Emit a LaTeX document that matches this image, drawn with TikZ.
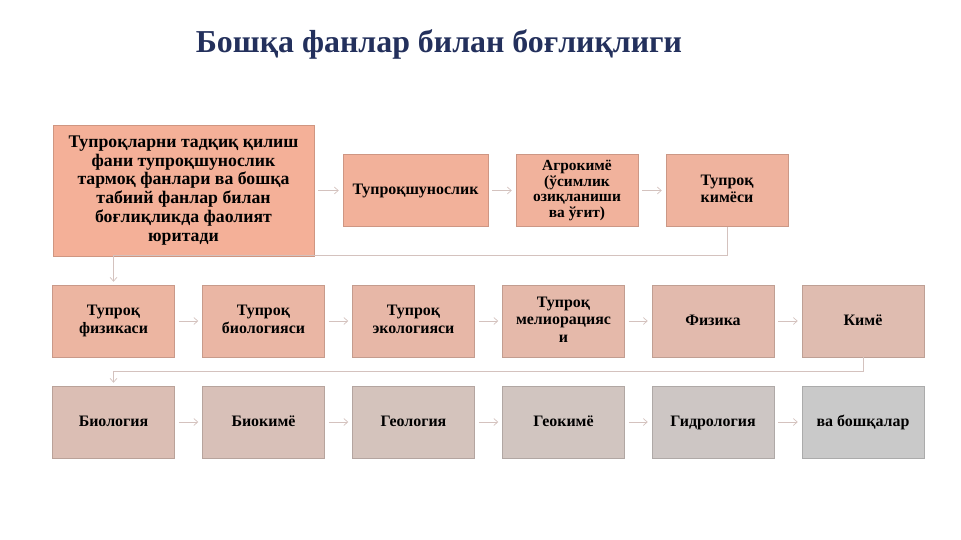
\documentclass[tikz,border=0pt]{standalone}
\usepackage{fontspec}
\setmainfont{Liberation Serif}
\usetikzlibrary{arrows.meta}
\usetikzlibrary{calc}

\definecolor{sal}{RGB}{244,176,152}
\definecolor{gry}{RGB}{201,201,201}
\definecolor{titleblue}{RGB}{35,48,92}
\definecolor{linkc}{RGB}{212,194,190}

\newcommand{\boxstrut}{\vrule height 0.78em depth 0.2em width 0pt}

\begin{document}
\begin{tikzpicture}[x=1bp, y=-1bp,
        box_style/.style={rectangle, draw=gry!#1!sal!85!black, fill=gry!#1!sal, line width=0.5pt,
            minimum width=122bp, minimum height=72bp, inner sep=1pt, align=center,
            execute at begin node=\boxstrut, execute at end node=\boxstrut,
            font=\fontsize{16}{17.5}\selectfont\bfseries},
        edge_style/.style={draw=linkc, line width=0.7pt, -{Straight Barb[length=4pt,width=7pt]},
            shorten >=4pt, shorten <=4pt},
        link_style/.style={draw=linkc, line width=0.7pt, -{Straight Barb[length=4pt,width=7pt]},
            shorten >=3pt}]

        \useasboundingbox (0,0) rectangle (961,540);

        \node [font=\fontsize{32}{36}\selectfont\bfseries, text=titleblue](title) at (439,44) {Бошқа фанлар билан боғлиқлиги};

        % first row
        \node [box_style=0, minimum width=261bp, minimum height=131bp, font=\fontsize{17.8}{19}\selectfont\bfseries](main) at (183.5,190.5)
            {Тупроқларни тадқиқ қилиш\\фани тупроқшунослик\\тармоқ фанлари ва бошқа\\табиий фанлар билан\\боғлиқликда фаолият\\юритади};

        \node [box_style=4, minimum width=145bp](tsh) at (415.5,190.5) {Тупроқшунослик};

        \node [box_style=8, font=\fontsize{15.5}{16}\selectfont\bfseries](agro) at (577,190.5) {Агрокимё\\(ўсимлик\\озиқланиши\\ва ўғит)};

        \node [box_style=12](kim) at (727,190.5) {Тупроқ\\кимёси};

        % second row
        \node [box_style=18](fiz) at (113.5,321) {Тупроқ\\физикаси};

        \node [box_style=24](bio) at (263.5,321) {Тупроқ\\биологияси};

        \node [box_style=30](eko) at (413.5,321) {Тупроқ\\экологияси};

        \node [box_style=36](mel) at (563.5,321) {Тупроқ\\мелиорацияс\\и};

        \node [box_style=42](fizika) at (713,321) {Физика};

        \node [box_style=48](kime) at (863,321) {Кимё};

        % third row
        \node [box_style=58](biol) at (113.5,422) {Биология};

        \node [box_style=66](bkim) at (263.5,422) {Биокимё};

        \node [box_style=74](geol) at (413.5,422) {Геология};

        \node [box_style=82](gkim) at (563.5,422) {Геокимё};

        \node [box_style=90](gidr) at (713,422) {Гидрология};

        \node [box_style=100](boshq) at (863,422) {ва бошқалар};

        \coordinate (turn1) at (113.5,255);
        \coordinate (turn2) at (113.5,371);

        \draw [edge_style] (main) -- (tsh);
        \draw [edge_style] (tsh) -- (agro);
        \draw [edge_style] (agro) -- (kim);
        \draw [link_style] (kim.south) |- (turn1) -- (fiz.north);

        \draw [edge_style] (fiz) -- (bio);
        \draw [edge_style] (bio) -- (eko);
        \draw [edge_style] (eko) -- (mel);
        \draw [edge_style] (mel) -- (fizika);
        \draw [edge_style] (fizika) -- (kime);
        \draw [link_style] (kime.south) |- (turn2) -- (biol.north);

        \draw [edge_style] (biol) -- (bkim);
        \draw [edge_style] (bkim) -- (geol);
        \draw [edge_style] (geol) -- (gkim);
        \draw [edge_style] (gkim) -- (gidr);
        \draw [edge_style] (gidr) -- (boshq);

        \end{tikzpicture}
\end{document}
